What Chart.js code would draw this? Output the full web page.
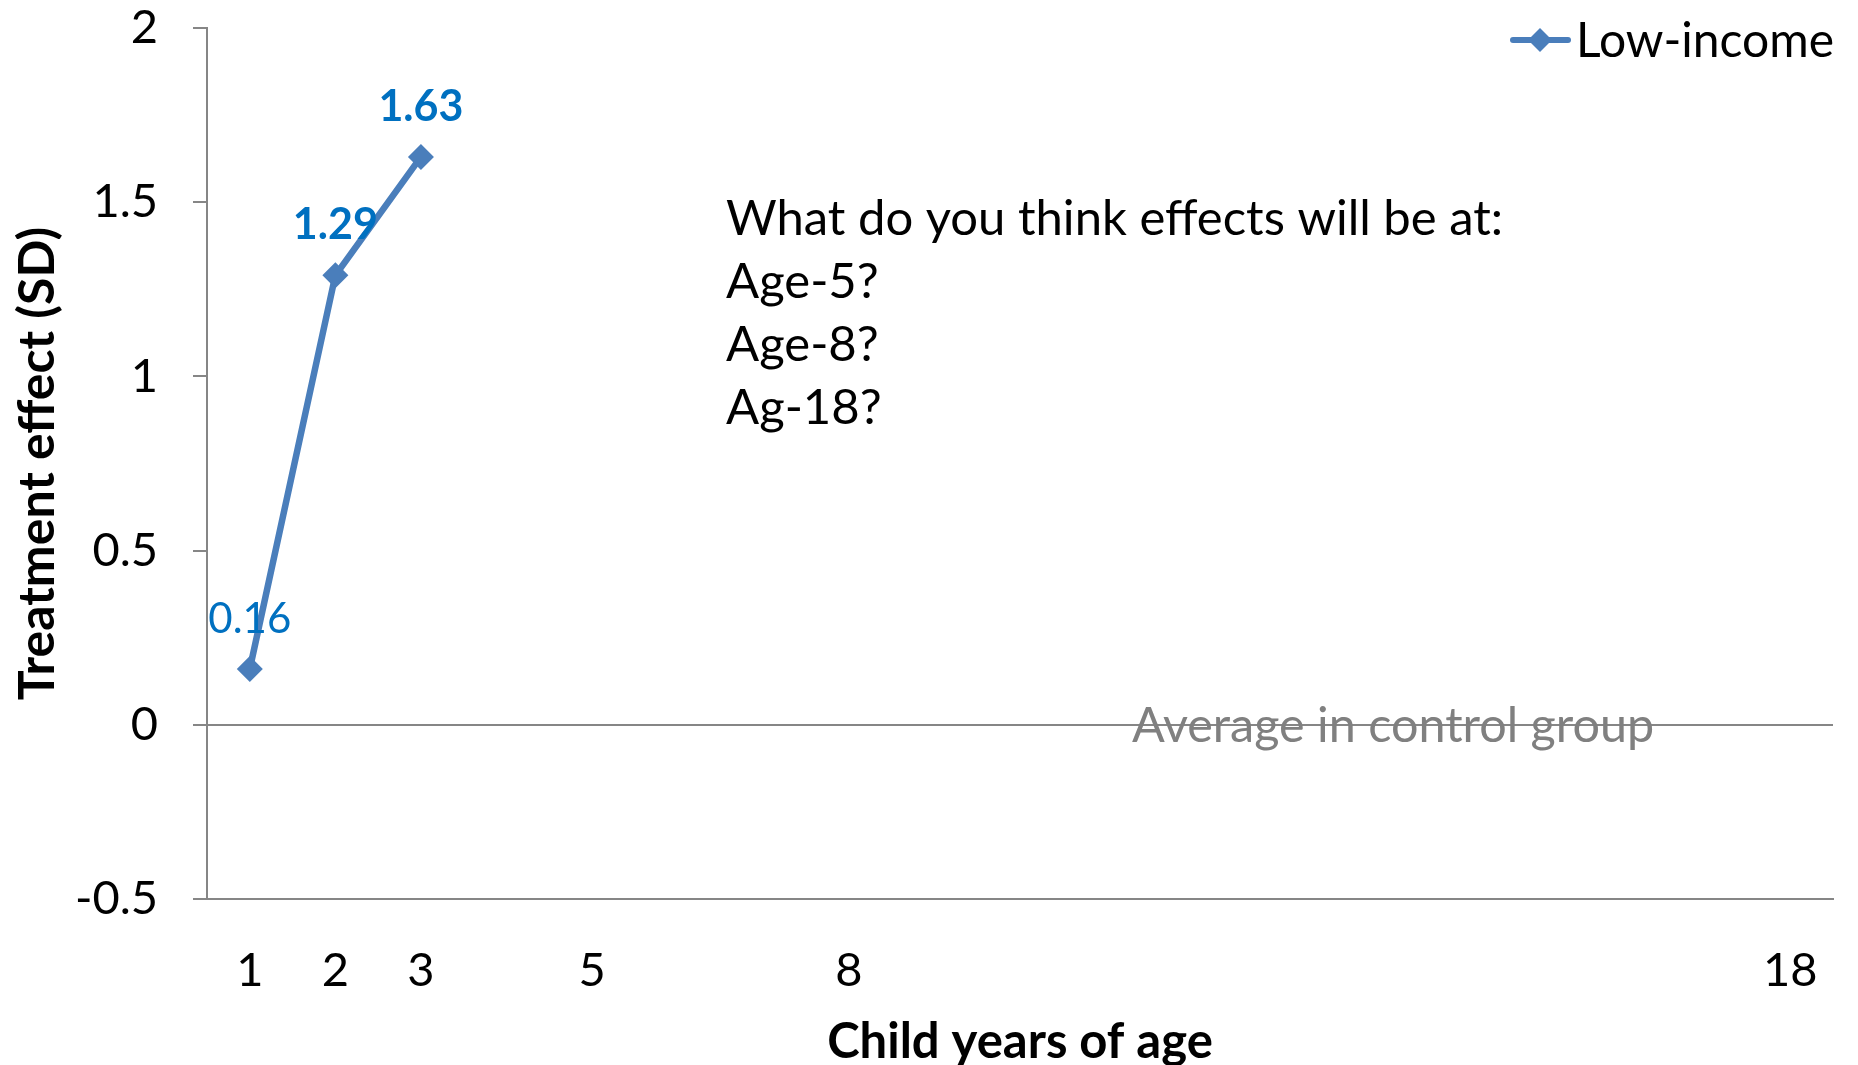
<!DOCTYPE html>
<html>
<head>
<meta charset="utf-8">
<script src="https://cdn.jsdelivr.net/npm/chart.js@4"></script>
<style>
  html, body { margin: 0; padding: 0; background: #fff; }
  #wrap { width: 1858px; height: 1065px; position: relative; }
</style>
</head>
<body>
<div id="wrap"><canvas id="effectChart"></canvas></div>
<script>
// x positions are categories; blank ones keep the uneven spacing of the original
const ageLabels = ['1', '2', '3', '', '5', '', '', '8', '', '', '', '', '', '', '', '', '', '', '18'];
const lowIncome = [0.16, 1.29, 1.63];
const labelBold = [false, true, true];
const yTicks = { min: -0.5, max: 2, step: 0.5 };
const questionLines = ['What do you think effects will be at:', 'Age-5?', 'Age-8?', 'Ag-18?'];

const FONT = 'Lato, "Open Sans", sans-serif';
const LINE_BLUE = '#4A7EBB';
const LABEL_BLUE = '#0070C0';
const AXIS_GREY = '#868686';

const overlayPlugin = {
  id: 'overlay',
  afterDatasetsDraw(chart) {
    const { ctx } = chart;
    const meta = chart.getDatasetMeta(0);

    // data labels above each point
    ctx.save();
    ctx.fillStyle = LABEL_BLUE;
    ctx.textAlign = 'center';
    ctx.textBaseline = 'middle';
    meta.data.forEach((pt, i) => {
      ctx.font = (labelBold[i] ? 'bold 43px ' : '42px ') + FONT;
      ctx.fillText(lowIncome[i].toFixed(2), pt.x, pt.y - 50);
    });
    ctx.restore();
  },
  afterDraw(chart) {
    const { ctx, scales } = chart;
    ctx.save();

    // control group note sitting on the zero line
    ctx.font = '48.5px ' + FONT;
    ctx.fillStyle = '#808080';
    ctx.textAlign = 'left';
    ctx.textBaseline = 'middle';
    ctx.fillText('Average in control group', 1132, scales.y.getPixelForValue(0) + 2);

    // question block
    ctx.font = '49px ' + FONT;
    ctx.fillStyle = '#000';
    questionLines.forEach((line, i) => {
      ctx.fillText(line, 726, 219 + i * 63);
    });

    // legend
    const ly = 40;
    ctx.strokeStyle = LINE_BLUE;
    ctx.lineWidth = 6;
    ctx.lineCap = 'round';
    ctx.beginPath();
    ctx.moveTo(1513, ly);
    ctx.lineTo(1568, ly);
    ctx.stroke();
    ctx.fillStyle = LINE_BLUE;
    ctx.beginPath();
    ctx.moveTo(1540, ly - 12);
    ctx.lineTo(1552, ly);
    ctx.lineTo(1540, ly + 12);
    ctx.lineTo(1528, ly);
    ctx.closePath();
    ctx.fill();
    ctx.fillStyle = '#000';
    ctx.font = '48px ' + FONT;
    ctx.fillText('Low-income', 1576, ly + 2);

    ctx.restore();
  }
};

new Chart(document.getElementById('effectChart'), {
  type: 'line',
  data: {
    labels: ageLabels,
    datasets: [{
      label: 'Low-income',
      data: lowIncome,
      borderColor: LINE_BLUE,
      backgroundColor: LINE_BLUE,
      borderWidth: 6.5,
      pointStyle: 'rectRot',
      pointRadius: 13,
      pointHoverRadius: 13,
      pointBorderWidth: 0,
      tension: 0
    }]
  },
  options: {
    responsive: true,
    maintainAspectRatio: false,
    animation: false,
    layout: { padding: { top: 28, right: 25, left: 0, bottom: 0 } },
    plugins: {
      legend: { display: false },
      tooltip: { enabled: false }
    },
    scales: {
      x: {
        type: 'category',
        offset: true,
        grid: { display: false },
        border: { display: true, color: AXIS_GREY, width: 2 },
        ticks: {
          autoSkip: false,
          maxRotation: 0,
          padding: 36,
          color: '#000',
          font: { family: FONT, size: 47 }
        },
        title: {
          display: true,
          text: 'Child years of age',
          color: '#000',
          font: { family: FONT, size: 49, weight: 'bold' },
          padding: { top: 0, bottom: -7 }
        },
        afterFit(scale) { scale.height = 166; }
      },
      y: {
        min: yTicks.min,
        max: yTicks.max,
        grid: {
          color: (c) => (c.tick && c.tick.value === 0 ? AXIS_GREY : 'rgba(0,0,0,0)'),
          tickColor: AXIS_GREY,
          tickLength: 14,
          lineWidth: 2
        },
        border: { display: true, color: AXIS_GREY, width: 2 },
        ticks: {
          stepSize: yTicks.step,
          padding: 35,
          color: '#000',
          font: { family: FONT, size: 47 },
          callback: (v) => String(Math.round(v * 10) / 10)
        },
        title: {
          display: true,
          text: 'Treatment effect (SD)',
          color: '#000',
          font: { family: FONT, size: 50, weight: 'bold' },
          padding: { top: 8, bottom: 0 }
        },
        afterFit(scale) {
          scale.width = 207;
          scale.paddingTop = 0;
          scale.paddingBottom = 0;
        }
      }
    }
  },
  plugins: [overlayPlugin]
});
</script>
</body>
</html>
